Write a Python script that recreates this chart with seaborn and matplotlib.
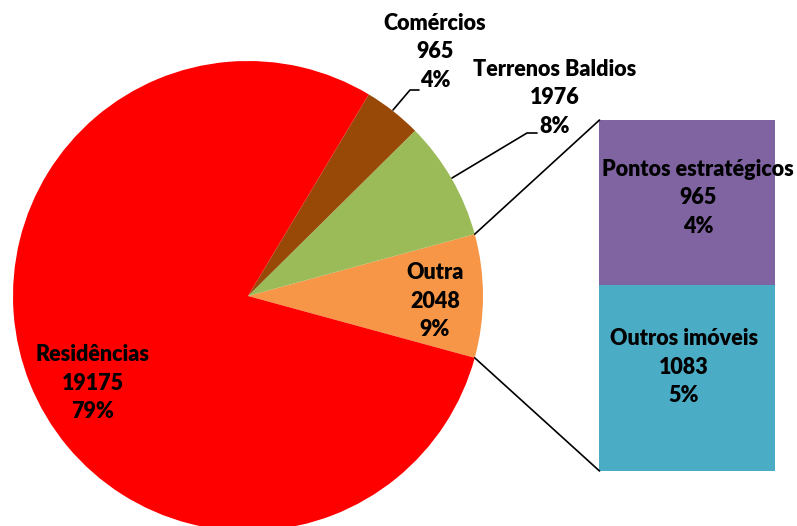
import numpy as np
import matplotlib
matplotlib.use("Agg")
import matplotlib.pyplot as plt
import seaborn as sns

# pie data (counter-clockwise starting with "Outra")
pie_labels = ['Outra', 'Terrenos Baldios', 'Comércios', 'Residências']
pie_values = [2048, 1976, 965, 19175]
pie_pcts = ['9%', '8%', '4%', '79%']
pie_colors = ['#F79646', '#9BBB59', '#984807', '#FF0000']

# breakdown of "Outra" (bottom to top)
bar_labels = ['Outros imóveis', 'Pontos estratégicos']
bar_values = [1083, 965]
bar_pcts = ['5%', '4%']
bar_colors = ['#4BACC6', '#8064A2']

sns.set_style("white")
plt.rcParams['font.family'] = ['Lato', 'DejaVu Sans']

fig = plt.figure(figsize=(7.97, 5.26), dpi=100)
ax = fig.add_axes([0, 0, 1, 1])

# pie
cx, cy, r = 248, 230, 235
start = -360 * pie_values[0] / sum(pie_values) / 2
ax.pie(pie_values, colors=sns.color_palette(pie_colors), startangle=start,
       counterclock=True, center=(cx, cy), radius=r, frame=True,
       wedgeprops=dict(linewidth=0))
ax.set_xlim(0, 797)
ax.set_ylim(0, 526)
ax.set_aspect('equal')
ax.axis('off')

# stacked bar for "Outra"
bx, bw, by0, bh = 687.5, 176, 55, 351
scale = bh / sum(bar_values)
bottom = by0
for v, c in zip(bar_values, bar_colors):
    ax.bar(bx, v * scale, width=bw, bottom=bottom, color=c, linewidth=0)
    bottom += v * scale

# connector lines between the "Outra" slice and the bar
a = np.deg2rad(-start)
px = cx + r * np.cos(a)
ax.plot([px, bx - bw / 2], [cy + r * np.sin(a), by0 + bh], color='black', lw=1.2)
ax.plot([px, bx - bw / 2], [cy - r * np.sin(a), by0], color='black', lw=1.2)

# leader lines
ax.plot([393, 410, 419], [416, 436, 436], color='black', lw=1.2)
ax.plot([452, 527, 537], [348, 393, 393], color='black', lw=1.2)

kw = dict(ha='center', va='center', fontsize=15.5, fontweight='heavy',
          linespacing=1.42, color='black')
pie_text_pos = [(435, 225), (555, 428), (435, 474), (93, 143)]
for (x, y), lab, v, p in zip(pie_text_pos, pie_labels, pie_values, pie_pcts):
    ax.text(x, y, f"{lab}\n{v}\n{p}", **kw)

bar_text_pos = [(684, 159), (698, 328)]
for (x, y), lab, v, p in zip(bar_text_pos, bar_labels, bar_values, bar_pcts):
    ax.text(x, y, f"{lab}\n{v}\n{p}", **kw)

fig.savefig('out.png', dpi=100)
